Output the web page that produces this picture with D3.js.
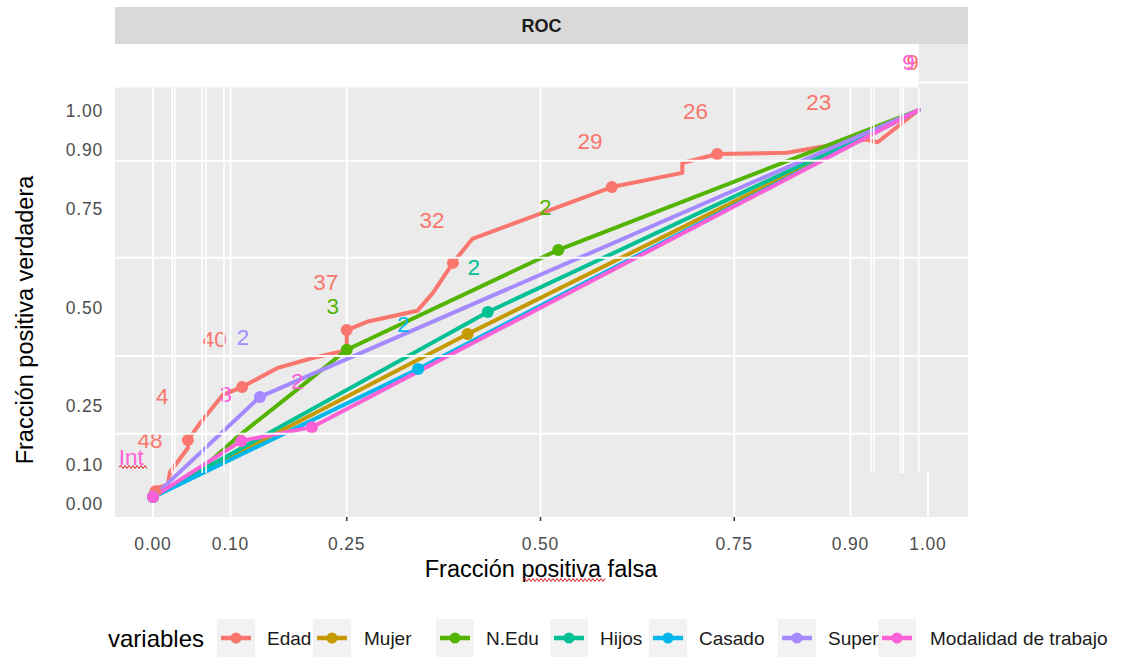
<!DOCTYPE html>
<html><head><meta charset="utf-8">
<script src="https://cdn.jsdelivr.net/npm/d3@7"></script>
<style>body{margin:0;background:#fff;}svg{display:block;font-family:"Liberation Sans",Arial,sans-serif;}</style>
</head><body>
<svg id="c" width="1121" height="661"></svg>
<script>
// ---------- data ----------
const seriesNames = ["Edad","Mujer","N.Edu","Hijos","Casado","Super","Modalidad de trabajo"];
const seriesColors = ["#F8766D","#C49A00","#53B400","#00C094","#00B6EB","#A58AFF","#FB61D7"];

const edadFPR = [0,0.003,0.019,0.022,0.045,0.045,0.061,0.09,0.115,0.16,0.206,0.25,0.25,0.276,0.341,0.361,0.387,0.412,0.592,0.683,0.683,0.728,0.818,0.861,0.92,0.935,0.988];
const edadTPR = [0.015,0.038,0.046,0.079,0.14,0.16,0.204,0.275,0.295,0.343,0.369,0.389,0.44,0.461,0.489,0.534,0.611,0.672,0.804,0.84,0.865,0.888,0.891,0.906,0.925,0.918,1];
const mujerFPR = [0,0.406,0.988];
const mujerTPR = [0.015,0.43,1];
const neduFPR = [0,0.061,0.112,0.19,0.25,0.523,0.988];
const neduTPR = [0.015,0.084,0.173,0.295,0.39,0.644,1];
const hijosFPR = [0,0.432,0.988];
const hijosTPR = [0.015,0.486,1];
const casadoFPR = [0,0.342,0.988];
const casadoTPR = [0.015,0.341,1];
const superFPR = [0,0.138,0.988];
const superTPR = [0.015,0.27,1];
const modalFPR = [0,0.114,0.205,0.988];
const modalTPR = [0.015,0.158,0.193,1];

// cutoff points (dots)
const edadPtFPR = [0.003,0.045,0.115,0.25,0.387,0.592,0.728];
const edadPtTPR = [0.03,0.16,0.295,0.44,0.611,0.804,0.888];
const mujerPtFPR = [0,0.406];
const mujerPtTPR = [0.015,0.43];
const neduPtFPR = [0,0.25,0.523];
const neduPtTPR = [0.015,0.39,0.644];
const hijosPtFPR = [0,0.432];
const hijosPtTPR = [0.015,0.486];
const casadoPtFPR = [0,0.342];
const casadoPtTPR = [0.015,0.341];
const superPtFPR = [0,0.138];
const superPtTPR = [0.015,0.27];
const modalPtFPR = [0,0.114,0.205];
const modalPtTPR = [0.015,0.158,0.193];

// cutoff labels
const labelText   = ["48","4","40","37","32","29","26","23","9","Int","3","2","9","2","3","2","2","2"];
const labelSeries = [0,0,0,0,0,0,0,0,0,6,6,6,6,5,2,2,4,3];
const labelFPR    = [-0.004,0.012,0.079,0.223,0.36,0.564,0.70,0.859,0.980,-0.028,0.094,0.186,0.975,0.116,0.232,0.506,0.323,0.414];
const labelTPR    = [0.158,0.27,0.417,0.56,0.718,0.921,0.997,1.02,1.12,0.117,0.277,0.31,1.12,0.42,0.501,0.753,0.455,0.598];

// axis ticks
const xTickVals = [0,0.10,0.25,0.50,0.75,0.90,1.00];
const xTickLabels = ["0.00","0.10","0.25","0.50","0.75","0.90","1.00"];
const yTickVals = [0,0.10,0.25,0.50,0.75,0.90,1.00];
const yTickLabels = ["0.00","0.10","0.25","0.50","0.75","0.90","1.00"];
const xTickMarkVals = [0.25,0.50,0.75];

// grid lines (as drawn in the picture)
const gridXFull = [0,0.10,0.25,0.50,0.75,0.90];
const gridYOver = [0.871,0.624,0.374,0.176];
const gridXOver = [0.0245,0.028,0.0635,0.0685,0.0915,0.9265,0.93,0.9645,0.968,0.988];

// ---------- drawing ----------
const svg = d3.select("#c");
const x = d3.scaleLinear().domain([0,1]).range([153,928]);
const y = d3.scaleLinear().domain([0,1]).range([503,110]);
const P = {l:115, r:968, t:44, b:517};

// strip
svg.append("rect").attr("x",P.l).attr("y",7).attr("width",P.r-P.l).attr("height",P.t-7).attr("fill","#D9D9D9");
svg.append("text").attr("x",(P.l+P.r)/2).attr("y",26).attr("text-anchor","middle").attr("dominant-baseline","central")
  .attr("font-size",18).attr("font-weight","bold").attr("fill","#1A1A1A").text("ROC");
// panel
svg.append("rect").attr("x",P.l).attr("y",P.t).attr("width",P.r-P.l).attr("height",P.b-P.t).attr("fill","#EBEBEB");
const topY = 87.5;
// vertical grid
svg.selectAll(".gx").data(gridXFull).enter().append("line")
  .attr("x1",d=>x(d)).attr("x2",d=>x(d)).attr("y1",topY).attr("y2",P.b)
  .attr("stroke","#fff").attr("stroke-width",2);
svg.append("line").attr("x1",x(1)).attr("x2",x(1)).attr("y1",473).attr("y2",P.b).attr("stroke","#fff").attr("stroke-width",2);
svg.append("line").attr("x1",x(0.988)).attr("x2",P.r).attr("y1",y(1.07)).attr("y2",y(1.07)).attr("stroke","#fff").attr("stroke-width",2);
// white area above panel
svg.append("rect").attr("x",P.l).attr("y",P.t).attr("width",x(0.988)-P.l).attr("height",topY-P.t).attr("fill","#fff");

// series
const fprs = [edadFPR,mujerFPR,neduFPR,hijosFPR,casadoFPR,superFPR,modalFPR];
const tprs = [edadTPR,mujerTPR,neduTPR,hijosTPR,casadoTPR,superTPR,modalTPR];
const pfprs = [edadPtFPR,mujerPtFPR,neduPtFPR,hijosPtFPR,casadoPtFPR,superPtFPR,modalPtFPR];
const ptprs = [edadPtTPR,mujerPtTPR,neduPtTPR,hijosPtTPR,casadoPtTPR,superPtTPR,modalPtTPR];
const line = d3.line().x(d=>x(d[0])).y(d=>y(d[1]));
seriesNames.forEach((n,i)=>{
  const pts = fprs[i].map((f,j)=>[f,tprs[i][j]]);
  svg.append("path").attr("d",line(pts)).attr("fill","none").attr("stroke",seriesColors[i])
    .attr("stroke-width",4).attr("stroke-linejoin","round").attr("stroke-linecap","round");
});
seriesNames.forEach((n,i)=>{
  const pts = pfprs[i].map((f,j)=>[f,ptprs[i][j]]);
  svg.selectAll(null).data(pts).enter().append("circle")
    .attr("cx",d=>x(d[0])).attr("cy",d=>y(d[1])).attr("r",6).attr("fill",seriesColors[i]);
});
// labels
svg.selectAll(".lab").data(labelText).enter().append("text")
  .attr("x",(d,i)=>x(labelFPR[i])).attr("y",(d,i)=>y(labelTPR[i]))
  .attr("text-anchor","middle").attr("dominant-baseline","central")
  .attr("font-size",22.5).attr("fill",(d,i)=>seriesColors[labelSeries[i]]).text(d=>d);

// overlay grid lines
svg.selectAll(".gyo").data(gridYOver).enter().append("line")
  .attr("x1",P.l).attr("x2",P.r).attr("y1",d=>y(d)).attr("y2",d=>y(d))
  .attr("stroke","#fff").attr("stroke-width",2);
svg.selectAll(".gxo").data(gridXOver).enter().append("line")
  .attr("x1",d=>x(d)).attr("x2",d=>x(d)).attr("y1",topY).attr("y2",473)
  .attr("stroke","#fff").attr("stroke-width",1.6);

// squiggles
function squiggle(x0,x1,yy){
  let d="M"+x0+","+yy; let up=true;
  for(let xx=x0+2;xx<=x1;xx+=2){ d+="L"+xx+","+(yy+(up?-1.5:1.5)); up=!up; }
  svg.append("path").attr("d",d).attr("fill","none").attr("stroke","#E02020").attr("stroke-width",1);
}
squiggle(119,147,467);

// axes
svg.selectAll(".xt").data(xTickVals).enter().append("text")
  .attr("x",d=>x(d)).attr("y",544).attr("text-anchor","middle").attr("dominant-baseline","central")
  .attr("font-size",17.5).attr("letter-spacing",0.8).attr("fill","#4D4D4D").text((d,i)=>xTickLabels[i]);
svg.selectAll(".xtm").data(xTickMarkVals).enter().append("line")
  .attr("x1",d=>x(d)).attr("x2",d=>x(d)).attr("y1",P.b).attr("y2",P.b+4).attr("stroke","#333").attr("stroke-width",1.5);
svg.selectAll(".yt").data(yTickVals).enter().append("text")
  .attr("x",103).attr("y",d=>y(d)+1).attr("text-anchor","end").attr("dominant-baseline","central")
  .attr("font-size",17.5).attr("letter-spacing",0.8).attr("fill","#4D4D4D").text((d,i)=>yTickLabels[i]);

svg.append("text").attr("x",541).attr("y",569).attr("text-anchor","middle").attr("dominant-baseline","central")
  .attr("font-size",23.5).attr("fill","#000").text("Fracción positiva falsa");
squiggle(523,605,580);
svg.append("text").attr("transform","translate(25,320) rotate(-90)").attr("text-anchor","middle").attr("dominant-baseline","central")
  .attr("font-size",23.5).attr("fill","#000").text("Fracción positiva verdadera");

// legend
svg.append("text").attr("x",108).attr("y",638).attr("dominant-baseline","central").attr("font-size",24).attr("fill","#000").text("variables");
const keyX = [217,313,436,550,649,778,878];
const txtX = [267,364,486,600,699,828,930];
seriesNames.forEach((n,i)=>{
  const g = svg.append("g");
  g.append("rect").attr("x",keyX[i]).attr("y",619).attr("width",38).attr("height",38).attr("fill","#F2F2F2");
  g.append("line").attr("x1",keyX[i]+4).attr("x2",keyX[i]+34).attr("y1",638).attr("y2",638).attr("stroke",seriesColors[i]).attr("stroke-width",4.5);
  g.append("circle").attr("cx",keyX[i]+19).attr("cy",638).attr("r",5.5).attr("fill",seriesColors[i]);
});
seriesNames.forEach((n,i)=>{
  svg.append("text").attr("x",txtX[i]).attr("y",638).attr("dominant-baseline","central").attr("font-size",19).attr("fill","#1A1A1A").text(n);
});
</script>
</body></html>
